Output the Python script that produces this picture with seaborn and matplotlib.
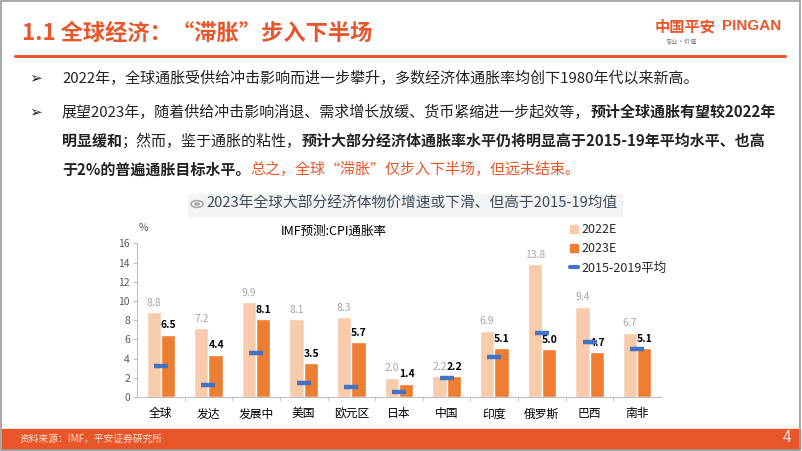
import numpy as np
import pandas as pd
import matplotlib
matplotlib.use("Agg")
import matplotlib.pyplot as plt
import seaborn as sns
from matplotlib.patches import Patch, Rectangle, Circle
from matplotlib.lines import Line2D

# 数据
regions = ["全球", "发达", "发展中", "美国", "欧元区", "日本", "中国", "印度", "俄罗斯", "巴西", "南非"]
cpi_2022 = [8.8, 7.2, 9.9, 8.1, 8.3, 2.0, 2.2, 6.9, 13.8, 9.4, 6.7]
cpi_2023 = [6.5, 4.4, 8.1, 3.5, 5.7, 1.4, 2.2, 5.1, 5.0, 4.7, 5.1]
avg_1519 = [3.2, 1.2, 4.6, 1.5, 1.0, 0.5, 2.0, 4.2, 6.7, 5.7, 5.0]
series = ["2022E", "2023E"]
yticks = [0, 2, 4, 6, 8, 10, 12, 14, 16]

ORANGE = "#E8562A"
LIGHT = "#F8CBAD"
DARK = "#ED7D31"
BLUE = "#4472C4"

sns.set_style("white")
plt.rcParams["font.family"] = ["Noto Sans CJK SC", "DejaVu Sans"]

W, H = 802, 451
fig = plt.figure(figsize=(W / 100, H / 100), dpi=100)
renderer = fig.canvas.get_renderer()


def fx(px):
    return px / W


def fy(py):
    return 1 - py / H


# 外框、标题、横线
fig.patches.append(Rectangle((0.001, 0.002), 0.997, 0.996, transform=fig.transFigure,
                             fill=False, edgecolor="#9a9a9a", lw=1.2))
fig.text(fx(22), fy(33), "1.1 全球经济：“滞胀”步入下半场", fontsize=16, weight="bold",
         color=ORANGE, va="center", ha="left")
fig.add_artist(Line2D([fx(15), fx(785)], [fy(56), fy(56)], color=ORANGE, lw=2.2))
fig.text(fx(655), fy(26), "中国平安", fontsize=11, weight="bold", color=ORANGE, va="center")
fig.text(fx(722), fy(26), "PINGAN", fontsize=11, weight="bold", color=ORANGE, va="center",
         family="Liberation Sans")
fig.text(fx(666), fy(42), "专业·价值", fontsize=4.5, color="#777777", va="center")

# 正文
def put_runs(x, y, runs, size=10.8):
    for s, weight, color in runs:
        t = fig.text(fx(x), fy(y), s, fontsize=size, weight=weight, color=color,
                     va="center", ha="left")
        x += t.get_window_extent(renderer).width


K = "#222222"
fig.text(fx(29), fy(78), "➢", fontsize=11, color=K, va="center", family="DejaVu Sans")
put_runs(62, 78, [("2022年，全球通胀受供给冲击影响而进一步攀升，多数经济体通胀率均创下1980年代以来新高。", "normal", K)])
fig.text(fx(29), fy(112), "➢", fontsize=11, color=K, va="center", family="DejaVu Sans")
put_runs(62, 112, [("展望2023年，随着供给冲击影响消退、需求增长放缓、货币紧缩进一步起效等，", "normal", K),
                   ("预计全球通胀有望较2022年", "bold", K)])
put_runs(62, 141, [("明显缓和", "bold", K), ("；然而，鉴于通胀的粘性，", "normal", K),
                   ("预计大部分经济体通胀率水平仍将明显高于2015-19年平均水平、也高", "bold", K)])
put_runs(62, 170, [("于2%的普遍通胀目标水平。", "bold", K),
                   ("总之，全球“滞胀”仅步入下半场，但远未结束。", "normal", ORANGE)])

# 图表标题
fig.patches.append(Rectangle((fx(188), fy(216)), fx(434), 22 / H, transform=fig.transFigure,
                             color="#F3F3F3", zorder=0))
fig.patches.append(Circle((fx(197), fy(204)), 6 / W, transform=fig.transFigure,
                          facecolor="white", edgecolor="#AAAAAA", lw=1.2))
fig.patches.append(Circle((fx(197), fy(204)), 3.2 / W, transform=fig.transFigure,
                          facecolor="#AAAAAA", edgecolor="none"))
fig.text(fx(206), fy(204), "2023年全球大部分经济体物价增速或下滑、但高于2015-19均值",
         fontsize=10.6, color="#3D4A5C", va="center", ha="left")

# 柱状图
df = pd.DataFrame({
    "区域": regions * 2,
    "系列": [series[0]] * len(regions) + [series[1]] * len(regions),
    "值": cpi_2022 + cpi_2023,
})

ax = fig.add_axes([fx(137), fy(397), fx(661 - 137), (397 - 243.3) / H])
sns.barplot(data=df, x="区域", y="值", hue="系列", order=regions, hue_order=series,
            palette=[LIGHT, DARK], width=0.6, saturation=1, legend=False, ax=ax)
pos = np.arange(len(regions))
sns.scatterplot(x=pos, y=avg_1519, marker="_", s=95, linewidth=3.2, color=BLUE, ax=ax, zorder=5)

for i in range(len(regions)):
    ax.text(i - 0.15, cpi_2022[i] + 0.45, f"{cpi_2022[i]:.1f}", ha="center", va="bottom",
            fontsize=7.5, color="#A6A6A6")
    ax.text(i + 0.16, cpi_2023[i] + 0.45, f"{cpi_2023[i]:.1f}", ha="center", va="bottom",
            fontsize=7.5, color="black", weight="bold")

ax.set_xlim(-0.5, len(regions) - 0.5)
ax.set_ylim(0, 16)
ax.set_yticks(yticks)
ax.set_xlabel("")
ax.set_ylabel("")
for side in ["top", "right"]:
    ax.spines[side].set_visible(False)
ax.spines["left"].set_color("#BFBFBF")
ax.spines["bottom"].set_color("#BFBFBF")
ax.tick_params(axis="y", labelsize=7.5, labelcolor="#595959", left=True, length=3,
               color="#BFBFBF", pad=2)
ax.tick_params(axis="x", labelsize=8.5, labelcolor="black", bottom=False, pad=4)
ax.set_xticks(np.arange(len(regions) - 1) + 0.5, minor=True)
ax.tick_params(axis="x", which="minor", bottom=True, length=3, color="#BFBFBF")
ax.patch.set_alpha(0)

fig.text(fx(143), fy(228), "%", fontsize=7.5, color="#595959", va="center", ha="center")
fig.text(fx(334), fy(231), "IMF预测:CPI通胀率", fontsize=9, color="black", va="center", ha="center")

handles = [Patch(color=LIGHT, label=series[0]), Patch(color=DARK, label=series[1]),
           Line2D([], [], color=BLUE, lw=3, label="2015-2019平均")]
fig.legend(handles=handles, loc="upper left", bbox_to_anchor=(fx(570), fy(223)), frameon=False,
           fontsize=9, handlelength=0.6, handleheight=0.6, handletextpad=0.3,
           labelspacing=0.5, borderaxespad=0, borderpad=0)

# 底部橙色条
fig.patches.append(Rectangle((fx(2), fy(449)), fx(798), 20 / H, transform=fig.transFigure,
                             color=ORANGE, zorder=0))
fig.text(fx(20), fy(439), "资料来源：IMF，平安证券研究所", fontsize=7, color="#FBE3D3", va="center")
fig.text(fx(787), fy(438), "4", fontsize=11, color="#FBE3D3", va="center", ha="center")

fig.savefig("out.png", dpi=100)
